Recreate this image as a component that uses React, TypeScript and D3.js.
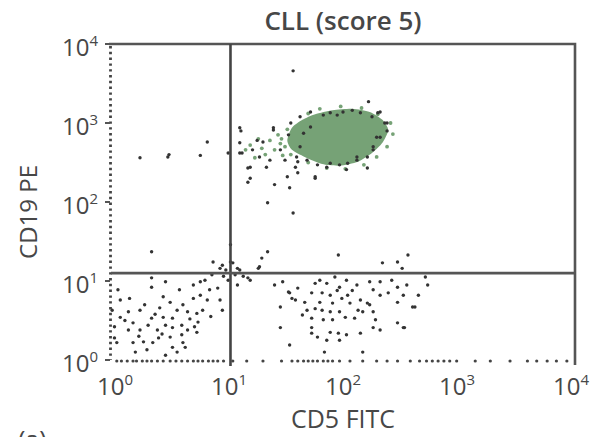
import React from 'react'
import * as d3 from 'd3'

// all positions are log10 exponents: [CD5 FITC, CD19 PE]
const decades = [0, 1, 2, 3, 4]
const gateX = 1.03
const gateY = 1.1

// dense CLL population (green blob outline)
const clusterOutline: [number, number][] = [
  [1.52, 2.78], [1.56, 2.94], [1.65, 3.04], [1.76, 3.11], [1.91, 3.16], [2.08, 3.18],
  [2.23, 3.14], [2.34, 3.04], [2.39, 2.91], [2.34, 2.75], [2.25, 2.62], [2.13, 2.51],
  [1.97, 2.46], [1.82, 2.48], [1.67, 2.57], [1.56, 2.66]
]

const greenEvents: [number, number][] = [
  [1.30, 2.68], [1.37, 2.78], [1.44, 2.85], [1.24, 2.56], [1.48, 2.59], [1.41, 2.66],
  [1.20, 2.72], [1.33, 2.60], [1.46, 2.74], [1.27, 2.80], [1.50, 2.70], [1.16, 2.66],
  [1.70, 3.12], [1.80, 3.18], [1.98, 3.21], [2.16, 3.19], [2.30, 3.11], [2.41, 3.0],
  [2.43, 2.86], [2.38, 2.70], [2.29, 2.57], [2.18, 2.47], [2.02, 2.42], [1.86, 2.43],
  [1.70, 2.50], [1.55, 2.60], [1.47, 2.80], [1.52, 2.92]
]

const upperEvents: [number, number][] = [
  [1.57, 3.66], [2.22, 3.27], [1.72, 3.14], [2.32, 3.14], [2.38, 3.0], [2.38, 2.9],
  [1.55, 3.0], [1.40, 2.91], [1.12, 2.9], [1.11, 2.75], [1.13, 2.62], [1.22, 2.66],
  [1.31, 2.76], [1.28, 2.57], [1.37, 2.53], [1.34, 2.44], [1.18, 2.43], [1.20, 2.30],
  [1.41, 2.22], [1.54, 2.18], [1.52, 2.32], [1.61, 2.37], [1.76, 2.30], [1.46, 2.66],
  [1.53, 2.85], [1.63, 3.08], [2.21, 2.43], [2.03, 2.41], [1.86, 2.44], [2.12, 2.53],
  [2.26, 2.66], [2.29, 2.82], [1.61, 2.51], [1.69, 2.53], [1.26, 2.78], [1.50, 2.53],
  [1.59, 2.44], [1.11, 2.94], [1.40, 2.94], [1.18, 2.25], [1.35, 1.99], [1.57, 1.86],
  [1.11, 2.62], [1.20, 2.44],
  // ring on the blob edge
  [1.83, 3.10], [1.89, 3.13], [1.95, 3.10], [2.00, 3.14], [2.08, 3.16], [2.15, 3.13],
  [2.25, 3.08], [2.30, 3.13], [2.36, 3.0], [2.32, 2.82], [2.26, 2.70], [2.21, 2.57],
  [2.12, 2.57], [2.04, 2.49], [1.97, 2.47], [1.89, 2.49], [1.78, 2.47], [1.76, 2.32],
  [1.72, 2.95], [1.66, 2.87], [1.63, 2.70], [1.60, 2.57],
  // left upper quadrant
  [0.25, 2.56], [0.49, 2.57], [0.50, 2.60], [0.77, 2.59], [0.83, 2.76], [1.01, 2.62]
]

const nearGateEvents: [number, number][] = [
  [0.35, 1.37], [1.35, 1.37], [1.30, 1.29], [1.96, 1.33], [2.56, 1.33], [2.47, 1.24],
  [2.34, 1.23], [1.28, 1.18], [2.51, 1.16], [1.03, 1.46], [0.96, 1.20], [0.99, 1.14],
  [1.03, 1.24], [1.07, 1.08], [1.01, 1.01], [0.97, 1.06], [1.09, 1.16], [1.14, 1.06],
  [1.20, 1.01], [0.87, 1.08], [0.81, 1.01], [0.88, 1.24], [0.94, 1.16], [1.05, 1.23],
  [1.11, 1.14], [1.18, 1.04], [1.09, 0.95], [1.27, 1.16]
]

const lowerLeftEvents: [number, number][] = [
  [0.35, 1.04], [0.35, 0.92], [0.47, 0.99], [0.59, 0.89], [0.71, 0.95], [0.77, 0.99],
  [0.85, 0.89], [0.92, 0.91], [0.45, 0.80], [0.51, 0.73], [0.62, 0.70], [0.71, 0.78],
  [0.77, 0.82], [0.83, 0.76], [0.66, 0.61], [0.74, 0.59], [0.96, 0.63], [0.08, 0.76],
  [0.01, 0.63], [0.08, 0.54], [0.15, 0.61], [0.25, 0.63], [0.35, 0.53], [0.45, 0.54],
  [0.53, 0.53], [0.57, 0.63], [0.61, 0.44], [0.53, 0.41], [0.47, 0.44], [0.40, 0.38],
  [0.32, 0.44], [0.25, 0.38], [0.19, 0.47], [0.15, 0.38], [0.03, 0.42], [0.03, 0.28],
  [0.05, 0.22], [0.19, 0.22], [0.28, 0.23], [0.36, 0.22], [0.31, 0.13], [0.41, 0.28],
  [0.51, 0.29], [0.61, 0.32], [0.66, 0.38], [0.74, 0.35], [0.62, 0.22], [0.64, 0.16],
  [0.53, 0.16], [0.57, 0.10], [0.75, 0.48], [0.72, 0.42], [0.79, 0.63], [0.16, 0.78],
  [0.06, 0.89], [0.29, 0.70], [0.42, 0.66], [0.21, 0.10], [0.47, 0.06], [0.94, 0.76],
  [0.12, 0.50], [0.38, 0.58], [0.68, 0.52], [0.86, 0.55], [0.24, 0.30], [0.44, 0.33]
]

const lowerRightEvents: [number, number][] = [
  [1.48, 0.99], [1.54, 0.85], [1.59, 0.76], [1.61, 0.91], [1.46, 0.67], [1.67, 0.73],
  [1.73, 0.85], [1.76, 0.97], [1.80, 1.01], [1.86, 0.97], [1.93, 1.05], [1.82, 0.85],
  [1.80, 0.73], [1.89, 0.82], [1.91, 0.72], [1.97, 0.92], [2.03, 1.01], [2.12, 0.95],
  [2.04, 0.82], [1.99, 0.78], [2.06, 0.72], [2.15, 0.76], [2.21, 0.72], [2.13, 0.63],
  [1.97, 0.61], [1.89, 0.61], [1.82, 0.63], [1.69, 0.63], [1.65, 0.57], [1.73, 0.53],
  [1.83, 0.51], [1.91, 0.51], [2.02, 0.54], [2.10, 0.53], [2.17, 0.61], [2.26, 0.61],
  [2.28, 0.51], [2.23, 0.70], [2.32, 0.82], [2.26, 0.89], [2.23, 0.99], [2.32, 0.99],
  [2.42, 1.01], [2.39, 0.85], [2.47, 0.92], [2.55, 0.95], [2.52, 0.82], [2.47, 0.73],
  [2.60, 0.67], [2.65, 0.82], [2.73, 0.95], [2.71, 1.05], [2.47, 0.47], [2.53, 0.41],
  [2.32, 0.38], [2.26, 0.41], [2.15, 0.34], [2.03, 0.32], [1.96, 0.34], [1.89, 0.35],
  [1.78, 0.29], [1.86, 0.25], [1.97, 0.25], [1.73, 0.41], [1.73, 0.34], [1.54, 0.19],
  [1.46, 0.41], [2.17, 0.10], [1.84, 0.10], [2.62, 0.67], [2.52, 0.41], [1.56, 0.78],
  [1.53, 0.86], [1.41, 0.95], [1.95, 0.88], [2.08, 0.88], [1.76, 0.65]
]

// events piled on the CD19 = 10^0 baseline (CD5 exponent only)
const baselineEvents = [
  0.05, 0.09, 0.14, 0.19, 0.22, 0.27, 0.31, 0.35, 0.40, 0.45, 0.51, 0.56, 0.61, 0.66,
  0.71, 0.75, 0.79, 0.84, 0.88, 0.92, 0.97, 1.05, 1.17, 1.31, 1.47, 1.56, 1.61, 1.66,
  1.70, 1.74, 1.78, 1.83, 1.87, 1.91, 1.97, 2.06, 2.17, 2.29, 2.38, 2.47, 2.58, 2.66,
  2.72, 2.77, 2.82, 2.87, 2.92, 2.98, 3.14, 3.27, 3.44, 3.59, 3.67, 3.76, 3.84, 3.93
]

const ink = '#474747'
const font = 'Open Sans, sans-serif'
const green = '#76a276'

export default function App() {
  const width = 594
  const height = 437
  const x = d3.scaleLog().domain([1, 1e4]).range([111, 575])
  const y = d3.scaleLog().domain([1, 1e4]).range([360, 44])
  const px = (e: number) => x(Math.pow(10, e))
  const py = (e: number) => y(Math.pow(10, e))

  const blob = d3.line<[number, number]>()
    .x(d => px(d[0]))
    .y(d => py(d[1]))
    .curve(d3.curveCardinalClosed.tension(0.3))(clusterOutline) || ''

  const dark = [...upperEvents, ...nearGateEvents, ...lowerLeftEvents, ...lowerRightEvents]
  const [x0, x1] = x.range()
  const [y0, y1] = y.range()

  return (
    <svg width={width} height={height} style={{ position: 'absolute', left: 0, top: 0, background: '#fff' }}>
      <text x={(x0 + x1) / 2} y={30} textAnchor="middle" fontFamily={font} fontWeight={600}
        fontSize={26} fill={ink}>CLL (score 5)</text>

      {/* dotted left edge */}
      <line x1={x0 - 0.5} x2={x0 - 0.5} y1={y1 + 2} y2={y0} stroke="#444" strokeWidth={2.8}
        strokeDasharray="2.4,3.4" />

      {/* frame top + right */}
      <path d={`M${x0 - 2},${y1}H${x1}V${y0 + 5}`} fill="none" stroke="#555" strokeWidth={2.6} />

      {/* y ticks + labels */}
      {decades.map(d => (
        <g key={'y' + d}>
          <line x1={x0 - 6} x2={x0 - 1} y1={py(d)} y2={py(d)} stroke="#555" strokeWidth={2} />
          <text x={x0 - 13} y={py(d) + 12} textAnchor="end" fontFamily={font} fontSize={24} fill={ink}>
            10<tspan dy={-10} fontSize={15}>{d}</tspan>
          </text>
        </g>
      ))}

      {/* x labels */}
      {decades.map(d => (
        <text key={'x' + d} x={px(d) - 2 * d + 4} y={395} textAnchor="middle" fontFamily={font} fontSize={24} fill={ink}>
          10<tspan dy={-10} fontSize={15}>{d}</tspan>
        </text>
      ))}

      <text x={(x0 + x1) / 2} y={428} textAnchor="middle" fontFamily={font} fontSize={25} fill={ink}>CD5 FITC</text>
      <text transform={`translate(37,${(y0 + y1) / 2 + 10}) rotate(-90)`} textAnchor="middle"
        fontFamily={font} fontSize={24} fill={ink}>CD19 PE</text>
      <text x={18} y={449} fontFamily={font} fontSize={25} fill={ink}>(a)</text>

      {/* CLL population */}
      <path d={blob} fill={green} />
      {greenEvents.map((d, i) => (
        <circle key={'g' + i} cx={px(d[0])} cy={py(d[1])} r={1.9} fill={green} />
      ))}
      {dark.map((d, i) => (
        <circle key={'d' + i} cx={px(d[0])} cy={py(d[1])} r={1.7} fill="#333" />
      ))}
      {baselineEvents.map((e, i) => (
        <circle key={'b' + i} cx={px(e)} cy={y0 + 1} r={1.6} fill="#444" />
      ))}

      {/* quadrant gates */}
      <line x1={px(gateX)} x2={px(gateX)} y1={y1} y2={y0 + 6} stroke="#444" strokeWidth={2.6} />
      <line x1={x0} x2={x1} y1={py(gateY)} y2={py(gateY)} stroke="#555" strokeWidth={2.6} />
    </svg>
  )
}
